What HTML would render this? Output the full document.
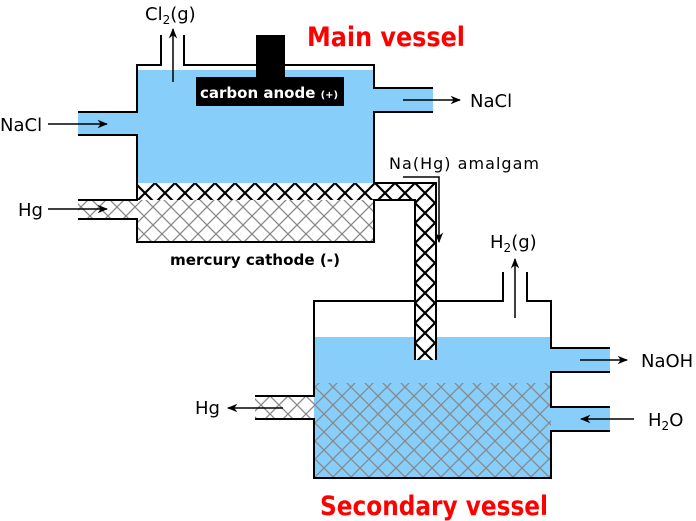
<!DOCTYPE html>
<html><head><meta charset="utf-8"><style>
html,body{margin:0;padding:0;background:#fff}
svg{display:block;font-family:"DejaVu Sans","Liberation Sans",sans-serif}
</style></head><body>
<svg width="696" height="521" viewBox="0 0 696 521">
<defs>
<pattern id="hg" width="18" height="18" patternUnits="userSpaceOnUse">
<rect width="18" height="18" fill="#fff"/>
<path d="M0 0L18 18M18 0L0 18" stroke="#888" stroke-width="1.3"/>
</pattern>
<pattern id="hgw" width="18" height="18" patternUnits="userSpaceOnUse">
<path d="M0 0L18 18M18 0L0 18" stroke="#888" stroke-width="1.3"/>
</pattern>
<pattern id="am" width="20" height="20" patternUnits="userSpaceOnUse" x="415" y="183">
<rect width="20" height="20" fill="#fff"/>
<path d="M0 0L20 20M20 0L0 20" stroke="#000" stroke-width="2.2"/>
</pattern>
<marker id="ar" viewBox="0 0 10 10" refX="9" refY="5" markerWidth="7" markerHeight="7" orient="auto"><path d="M0 1L10 5L0 9L3 5z" fill="#000"/></marker>
</defs>

<g>
<rect x="78" y="112" width="60" height="23" fill="#87cefa"/>
<rect x="137" y="70" width="237" height="113" fill="#87cefa"/>
<rect x="374" y="88" width="59" height="24" fill="#87cefa"/>
<rect x="137" y="183" width="237" height="59" fill="url(#hg)"/>
<rect x="78" y="200" width="60" height="19" fill="url(#hg)"/>
<path d="M137 183H436V360H415V200H137Z" fill="url(#am)"/>
<path d="M161 35V65H137V112H78M78 135H137V200H78M78 219H137V242H374V200H415V300M436 300V183H374V112H433M433 88H374V65H184V35" fill="none" stroke="#000" stroke-width="2"/>
<rect x="256" y="35" width="29" height="43" fill="#000"/>
<rect x="196" y="77" width="148" height="29" fill="#000"/>
<text x="200" y="98" font-size="15" font-weight="bold" fill="#fff">carbon anode <tspan font-size="10">(+)</tspan></text>
</g>

<g>
<rect x="314" y="337" width="237" height="141" fill="#87cefa"/>
<rect x="551" y="348" width="59" height="24" fill="#87cefa"/>
<rect x="551" y="407" width="59" height="24" fill="#87cefa"/>
<rect x="314" y="383" width="237" height="95" fill="url(#hgw)"/>
<rect x="255" y="396" width="59" height="23" fill="url(#hg)"/>
<rect x="415" y="300" width="21" height="60" fill="url(#am)"/>
<path d="M415 301H314V396H255M255 419H314V478H551V431H610M610 407H551V372H610M610 348H551V301H527V272M503 272V301H436" fill="none" stroke="#000" stroke-width="2"/>
<path d="M415 300V360M436 300V360" stroke="#000" stroke-width="2"/>
</g>

<g stroke="#000" stroke-width="1.5" fill="none">
<line x1="173" y1="82" x2="173" y2="29" marker-end="url(#ar)"/>
<line x1="48" y1="124" x2="107" y2="124" marker-end="url(#ar)"/>
<line x1="48" y1="209" x2="107" y2="209" marker-end="url(#ar)"/>
<line x1="403" y1="100" x2="460" y2="100" marker-end="url(#ar)"/>
<path d="M403 177H439V242" marker-end="url(#ar)"/>
<line x1="515" y1="318" x2="515" y2="259" marker-end="url(#ar)"/>
<line x1="580" y1="360" x2="627" y2="360" marker-end="url(#ar)"/>
<line x1="634" y1="419" x2="581" y2="419" marker-end="url(#ar)"/>
<line x1="283" y1="408" x2="228" y2="408" marker-end="url(#ar)"/>
</g>

<g font-size="18" fill="#000">
<text x="145" y="20">Cl<tspan font-size="12" dy="4">2</tspan><tspan dy="-4">(g)</tspan></text>
<text x="0" y="131">NaCl</text>
<text x="18" y="216">Hg</text>
<text x="470" y="107">NaCl</text>
<text x="389" y="169" font-size="16" textLength="150" lengthAdjust="spacing">Na(Hg) amalgam</text>
<text x="490" y="248">H<tspan font-size="12" dy="4">2</tspan><tspan dy="-4">(g)</tspan></text>
<text x="641" y="367">NaOH</text>
<text x="648" y="426">H<tspan font-size="12" dy="4">2</tspan><tspan dy="-4">O</tspan></text>
<text x="195" y="414">Hg</text>
<text x="170" y="265" font-size="15" font-weight="bold" textLength="170" lengthAdjust="spacingAndGlyphs">mercury cathode (-)</text>
</g>
<text x="307" y="46" font-size="27" font-weight="bold" fill="#f00" textLength="158" lengthAdjust="spacingAndGlyphs">Main vessel</text>
<text x="320" y="515" font-size="27" font-weight="bold" fill="#f00" textLength="228" lengthAdjust="spacingAndGlyphs">Secondary vessel</text>
</svg>
</body></html>
